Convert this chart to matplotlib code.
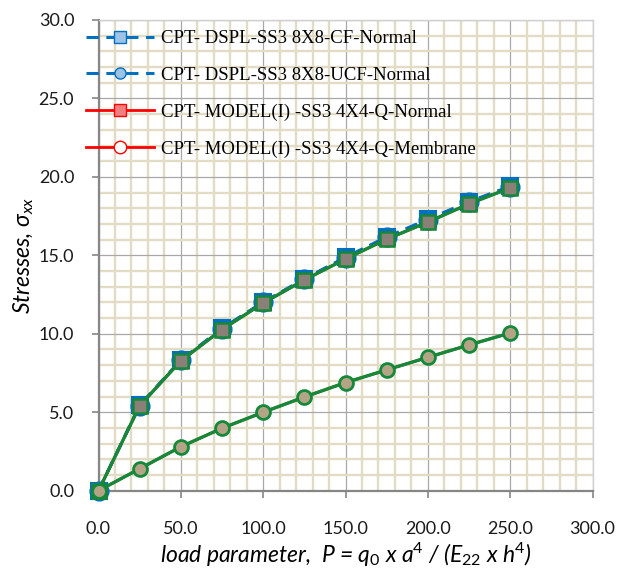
import matplotlib
matplotlib.use("Agg")
import matplotlib.pyplot as plt
from matplotlib.ticker import MultipleLocator
from matplotlib.lines import Line2D

# load parameter P
load_p = [0, 25, 50, 75, 100, 125, 150, 175, 200, 225, 250]
# sigma_xx, CPT-DSPL 8x8 (clamped / unclamped corners)
dspl_cf = [0.0, 5.45, 8.32, 10.35, 12.02, 13.50, 14.88, 16.17, 17.30, 18.42, 19.40]
dspl_ucf = [0.0, 5.42, 8.30, 10.32, 12.00, 13.48, 14.85, 16.14, 17.27, 18.38, 19.37]
# sigma_xx, CPT-MODEL(I) 4x4-Q (normal / membrane)
model_normal = [0.0, 5.41, 8.28, 10.27, 11.96, 13.43, 14.77, 16.03, 17.12, 18.28, 19.30]
model_membrane = [0.0, 1.40, 2.80, 3.98, 5.00, 5.97, 6.89, 7.70, 8.50, 9.29, 10.05]

labels = ["CPT- DSPL-SS3 8X8-CF-Normal",
          "CPT- DSPL-SS3 8X8-UCF-Normal",
          "CPT- MODEL(I) -SS3 4X4-Q-Normal",
          "CPT- MODEL(I) -SS3 4X4-Q-Membrane"]

x_ticks = [0, 50, 100, 150, 200, 250, 300]
y_ticks = [0, 5, 10, 15, 20, 25, 30]

plt.rcParams["font.family"] = ["Lato", "DejaVu Sans"]
plt.rcParams["mathtext.fontset"] = "custom"
plt.rcParams["mathtext.rm"] = "Lato"
plt.rcParams["mathtext.it"] = "Lato:italic"
plt.rcParams["mathtext.default"] = "it"

W, H = 621, 576
fig = plt.figure(figsize=(W / 100, H / 100), dpi=100)
ax = fig.add_axes([98.5 / W, 1 - 490.7 / H, (592.5 - 98.5) / W, (490.7 - 20) / H])

ax.set_xlim(0, 300)
ax.set_ylim(0, 30)
ax.xaxis.set_minor_locator(MultipleLocator(10))
ax.yaxis.set_minor_locator(MultipleLocator(1))
ax.set_xticks(x_ticks)
ax.set_yticks(y_ticks)
ax.set_xticklabels([f"{v:.1f}" for v in x_ticks])
ax.set_yticklabels([f"{v:.1f}" for v in y_ticks])

ax.grid(which="minor", color="#e3dcc5", linewidth=1.7, zorder=0)
ax.grid(which="major", color="#a8a8a8", linewidth=0.9, zorder=0.5)
ax.set_axisbelow(True)
ax.tick_params(which="minor", length=0)
ax.tick_params(which="major", length=5, width=1.2, color="#868686",
               labelsize=13, labelcolor="#1a1a1a")
ax.tick_params(axis="y", pad=12.5)
ax.tick_params(axis="x", pad=16.5)
for side in ("left", "bottom"):
    ax.spines[side].set_color("#868686")
    ax.spines[side].set_linewidth(1.6)
for side in ("top", "right"):
    ax.spines[side].set_color("#d0d0d0")
    ax.spines[side].set_linewidth(1.0)

blue = "#0070c0"
red = "#ff0000"
green = "#14893a"

# DSPL series (blue, dashed)
ax.plot(load_p, dspl_cf, ls=(0, (4, 2.5)), lw=2.2, color=blue, marker="s", ms=12,
        mfc=blue, mec=blue, mew=1.5, zorder=3, clip_on=False)
ax.plot(load_p, dspl_ucf, ls=(0, (4, 2.5)), lw=2.2, color=blue, marker="o", ms=13,
        mfc=blue, mec=blue, mew=1.5, zorder=3, clip_on=False)
# MODEL(I) series (red)
ax.plot(load_p, model_normal, lw=2.0, color=red, marker="s", ms=10,
        mfc="#f08080", mec=red, zorder=4, clip_on=False)
ax.plot(load_p, model_membrane, lw=2.0, color=red, marker="o", ms=9,
        mfc="white", mec=red, zorder=4, clip_on=False)
# overlaid green traces
ax.plot(load_p, model_normal, lw=2.4, color=green, marker="s", ms=10.5,
        mfc="#8a8078", mec=green, mew=1.8, zorder=5, clip_on=False)
ax.plot(load_p, model_membrane, lw=2.4, color=green, marker="o", ms=10,
        mfc="#b3a486", mec=green, mew=2.0, zorder=5, clip_on=False)

handles = [
    Line2D([], [], ls=(0, (4, 2.5)), lw=2.2, color=blue, marker="s", ms=8,
           mfc="#9dc3e6", mec=blue),
    Line2D([], [], ls=(0, (4, 2.5)), lw=2.2, color=blue, marker="o", ms=8,
           mfc="#9dc3e6", mec=blue),
    Line2D([], [], lw=2.0, color=red, marker="s", ms=9, mfc="#f08080", mec=red),
    Line2D([], [], lw=2.0, color=red, marker="o", ms=9, mfc="white", mec=red),
]
leg = fig.legend(handles, labels, loc="upper left",
                 bbox_to_anchor=(86 / W, 1 - 30 / H),
                 frameon=False, borderpad=0, borderaxespad=0,
                 handlelength=3.6, handletextpad=0.4, labelspacing=1.05,
                 prop={"family": "Liberation Serif", "size": 13.5})
leg.set_zorder(10)

ax.set_xlabel(r"load parameter,  P = q$_{0}$ x a$^{4}$ / (E$_{22}$ x h$^{4}$)",
              fontsize=16.5, style="italic", labelpad=3)
ax.set_ylabel(r"Stresses, $\sigma_{xx}$", fontsize=16.5, style="italic", labelpad=2)

fig.savefig("out.png", dpi=100)
